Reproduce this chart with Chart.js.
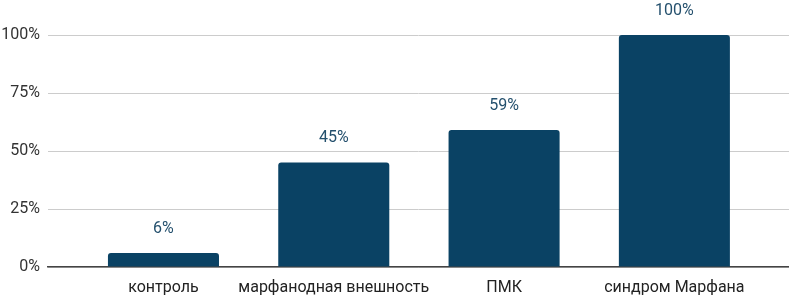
<!DOCTYPE html>
<html><head><meta charset="utf-8">
<script src="https://cdn.jsdelivr.net/npm/chart.js@4"></script>
<style>html,body{margin:0;padding:0;background:#fff}#w{width:789px;height:295px}</style>
</head><body><div id="w"><canvas id="c"></canvas></div>
<script>
const categories = ['контроль', 'марфанодная внешность', 'ПМК', 'синдром Марфана'];
const values = [6, 45, 59, 100];
const yTicks = [0, 25, 50, 75, 100];

const labelPlugin = {
  id: 'vals',
  afterDatasetsDraw(chart) {
    const ctx = chart.ctx;
    const meta = chart.getDatasetMeta(0);
    ctx.save();
    ctx.font = '16px Roboto';
    ctx.fillStyle = '#24506d';
    ctx.textAlign = 'center';
    ctx.textBaseline = 'middle';
    meta.data.forEach((bar, i) => {
      ctx.fillText(values[i] + '%', bar.x, bar.y - 24.5);
    });
    ctx.restore();
  }
};

new Chart(document.getElementById('c'), {
  type: 'bar',
  data: {
    datasets: [{
      data: values.map((v, i) => ({x: i, y: v})),
      backgroundColor: '#0a4264',
      borderRadius: 3,
      borderSkipped: 'start',
      categoryPercentage: 1,
      barPercentage: 0.652
    }]
  },
  options: {
    responsive: true,
    maintainAspectRatio: false,
    animation: false,
    layout: {padding: {top: 35, right: 0, left: 0, bottom: 0}},
    plugins: {legend: {display: false}, tooltip: {enabled: false}},
    scales: {
      x: {
        type: 'linear',
        offset: false,
        min: -0.678,
        max: 3.673,
        afterBuildTicks: s => { s.ticks = categories.map((c, i) => ({value: i})); },
        afterFit: s => { s.height = 28; },
        grid: {display: false, drawTicks: false, offset: false},
        border: {display: true, color: '#444', width: 1.5},
        ticks: {
          padding: 11,
          color: '#222',
          font: {family: 'Roboto', size: 16},
          maxRotation: 0,
          autoSkip: false,
          callback: v => categories[v] ?? ''
        }
      },
      y: {
        min: 0, max: 100,
        afterBuildTicks: s => { s.ticks = yTicks.map(v => ({value: v})); },
        afterFit: s => { s.width = 48; },
        grid: {color: '#cccccc', drawTicks: false, lineWidth: 1},
        border: {display: false},
        ticks: {
          padding: 8,
          color: '#333',
          font: {family: 'Roboto', size: 16},
          callback: v => v + '%'
        }
      }
    }
  },
  plugins: [labelPlugin]
});
</script></body></html>
